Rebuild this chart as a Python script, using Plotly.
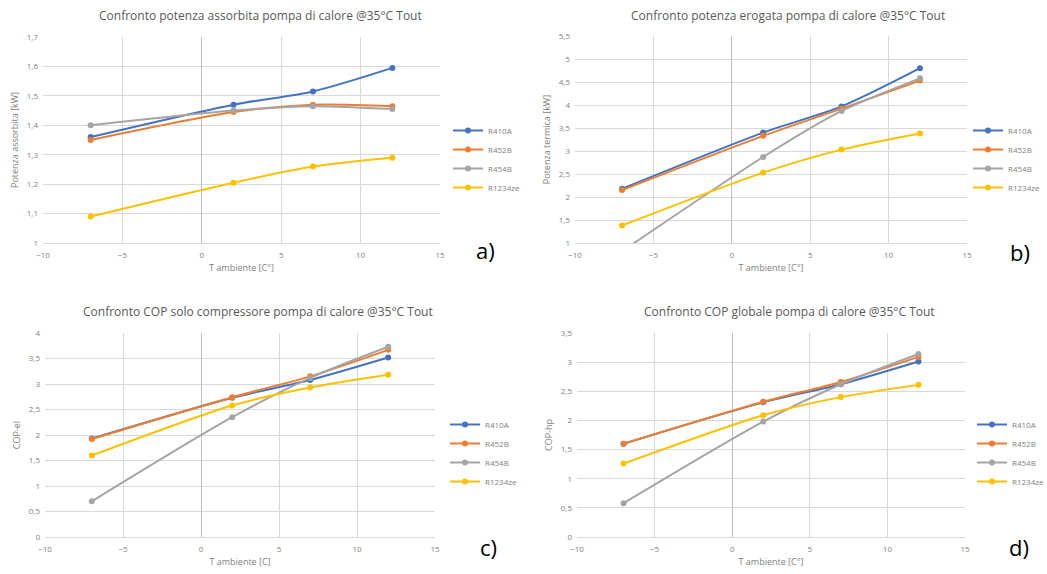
import plotly.graph_objects as go

x_temp = [-7, 2, 7, 12]
series_names = ["R410A", "R452B", "R454B", "R1234ze"]
colors = ["#4472C4", "#ED7D31", "#A5A5A5", "#FFC000"]

# Panel a: Potenza assorbita [kW]
a_R410A = [1.36, 1.47, 1.515, 1.595]
a_R452B = [1.35, 1.445, 1.47, 1.465]
a_R454B = [1.40, 1.45, 1.465, 1.455]
a_R1234ze = [1.09, 1.205, 1.26, 1.29]

# Panel b: Potenza termica [kW]
b_R410A = [2.18, 3.40, 3.97, 4.80]
b_R452B = [2.15, 3.33, 3.92, 4.53]
b_R454B = [0.82, 2.87, 3.87, 4.58]
b_R1234ze = [1.38, 2.53, 3.03, 3.38]

# Panel c: COP-el
c_R410A = [1.93, 2.73, 3.08, 3.52]
c_R452B = [1.92, 2.74, 3.15, 3.67]
c_R454B = [0.70, 2.35, 3.12, 3.73]
c_R1234ze = [1.60, 2.58, 2.93, 3.18]

# Panel d: COP-hp
d_R410A = [1.60, 2.31, 2.62, 3.01]
d_R452B = [1.60, 2.32, 2.66, 3.09]
d_R454B = [0.58, 1.98, 2.62, 3.14]
d_R1234ze = [1.26, 2.09, 2.40, 2.61]

panels = [
    dict(data=[a_R410A, a_R452B, a_R454B, a_R1234ze],
         title="Confronto potenza assorbita pompa di calore @35°C Tout",
         ytitle="Potenza assorbita [kW]", xtitle="T ambiente [C°]",
         yrange=[1, 1.7], dtick=0.1, label="a)"),
    dict(data=[b_R410A, b_R452B, b_R454B, b_R1234ze],
         title="Confronto potenza erogata pompa di calore @35°C Tout",
         ytitle="Potenza termica [kW]", xtitle="T ambiente [C°]",
         yrange=[1, 5.5], dtick=0.5, label="b)"),
    dict(data=[c_R410A, c_R452B, c_R454B, c_R1234ze],
         title="Confronto COP solo compressore pompa di calore @35°C Tout",
         ytitle="COP-el", xtitle="T ambiente [C]",
         yrange=[0, 4], dtick=0.5, label="c)"),
    dict(data=[d_R410A, d_R452B, d_R454B, d_R1234ze],
         title="Confronto COP globale pompa di calore @35°C Tout",
         ytitle="COP-hp", xtitle="T ambiente [C°]",
         yrange=[0, 3.5], dtick=0.5, label="d)"),
]

W, H = 1047, 574
# plot-area boxes in pixels (x0, x1, ytop, ybottom)
boxes = [(43, 440, 37, 243), (575, 967, 36, 243), (45, 435, 333, 537), (577, 965, 333, 537)]
legend_pos = [(448, 116), (968, 116), (445, 410), (972, 410)]
title_pos = [(260, 15), (788, 15), (258, 311), (789, 311)]
label_pos = [(485, 250), (1020, 252), (488, 547), (1019, 547)]

fig = go.Figure()
layout = dict(width=W, height=H, margin=dict(l=0, r=0, t=0, b=0, autoexpand=False),
              paper_bgcolor="white", plot_bgcolor="white",
              separators=", ", font=dict(family="Open Sans, sans-serif", color="#595959"),
              annotations=[])

for i, p in enumerate(panels):
    n = "" if i == 0 else str(i + 1)
    leg = "legend" + n
    for j, name in enumerate(series_names):
        fig.add_trace(go.Scatter(
            x=x_temp, y=p["data"][j], name=name, mode="lines+markers",
            line=dict(color=colors[j], width=2, shape="spline", smoothing=0.8),
            marker=dict(color=colors[j], size=6),
            xaxis="x" + n, yaxis="y" + n, legend=leg))
    x0, x1, yt, yb = boxes[i]
    layout["xaxis" + n] = dict(
        domain=[x0 / W, x1 / W], anchor="y" + n, range=[-10, 15], dtick=5,
        showgrid=True, gridcolor="#D9D9D9", gridwidth=1, zeroline=True,
        zerolinecolor="#BFBFBF", zerolinewidth=1, showline=True, linecolor="#D9D9D9",
        ticks="", ticklabelstandoff=4, tickfont=dict(size=8, color="#7F7F7F"),
        title=dict(text=p["xtitle"], font=dict(size=9, color="#7F7F7F"), standoff=6))
    layout["yaxis" + n] = dict(
        domain=[1 - yb / H, 1 - yt / H], anchor="x" + n, range=p["yrange"], dtick=p["dtick"],
        showgrid=True, gridcolor="#D9D9D9", gridwidth=1, zeroline=False,
        showline=False, ticks="", ticklabelstandoff=4, tickfont=dict(size=8, color="#7F7F7F"),
        title=dict(text=p["ytitle"], font=dict(size=9, color="#7F7F7F"), standoff=6))
    lx, ly = legend_pos[i]
    layout[leg] = dict(x=lx / W, y=1 - ly / H, xanchor="left", yanchor="top",
                       font=dict(size=8, color="#7F7F7F"), bgcolor="rgba(0,0,0,0)",
                       itemwidth=30, tracegroupgap=0)
    tx, ty = title_pos[i]
    layout["annotations"].append(dict(
        text=p["title"], x=tx / W, y=1 - ty / H, xref="paper", yref="paper",
        showarrow=False, xanchor="center", yanchor="middle",
        font=dict(size=12, color="#595959")))
    qx, qy = label_pos[i]
    layout["annotations"].append(dict(
        text=p["label"], x=qx / W, y=1 - qy / H, xref="paper", yref="paper",
        showarrow=False, xanchor="center", yanchor="middle",
        font=dict(size=22, color="#000000")))

fig.update_layout(**layout)
fig.write_html("out.html", config={"displayModeBar": False},
               post_script="document.body.style.margin='0';")
